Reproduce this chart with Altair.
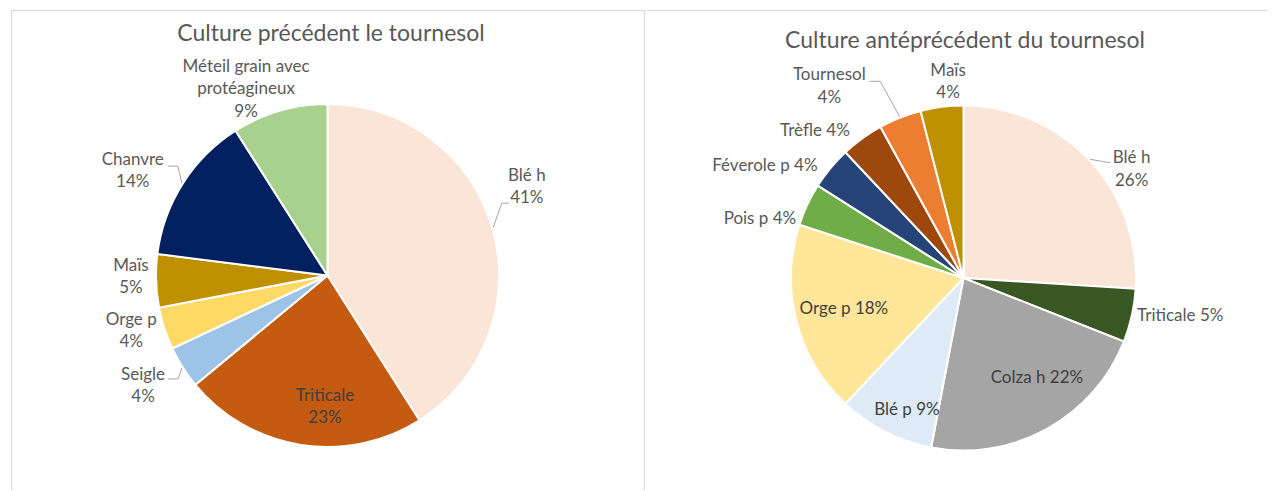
import math
import altair as alt
import pandas as pd

# ---------------- data ----------------
TITLE_L = "Culture précédent le tournesol"
CATS_L = ["Blé h", "Triticale", "Seigle", "Orge p", "Maïs", "Chanvre",
          "Méteil grain avec protéagineux"]
VALS_L = [41, 23, 4, 4, 5, 14, 9]
LABELS_L = ["Blé h\n41%", "Triticale\n23%", "Seigle\n4%", "Orge p\n4%", "Maïs\n5%",
            "Chanvre\n14%", "Méteil grain avec\nprotéagineux\n9%"]
COLORS_L = ["#FBE5D6", "#C55A11", "#9DC3E6", "#FFD966", "#BF9000", "#002060", "#A9D18E"]

TITLE_R = "Culture antéprécédent du tournesol"
CATS_R = ["Blé h", "Triticale", "Colza h", "Blé p", "Orge p", "Pois p",
          "Féverole p", "Trèfle", "Tournesol", "Maïs"]
VALS_R = [26, 5, 22, 9, 18, 4, 4, 4, 4, 4]
LABELS_R = ["Blé h\n26%", "Triticale 5%", "Colza h 22%", "Blé p 9%", "Orge p 18%",
            "Pois p 4%", "Féverole p 4%", "Trèfle 4%", "Tournesol\n4%", "Maïs\n4%"]
COLORS_R = ["#FBE5D6", "#385723", "#A5A5A5", "#DEEBF7", "#FFE699", "#70AD47",
            "#264478", "#9E480E", "#ED7D31", "#BF9000"]

# ---------------- layout / style ----------------
FONT = "Lato"
LABEL_SIZE = 17
TITLE_SIZE = 23
LINE_H = 22.5
TXT = "#595959"
TXT_IN = "#404040"
BORDER = "#D9D9D9"
LEADER = "#A6A6A6"
PANEL_H = 480

# label placement: (radius px, angle nudge deg) per slice
PLACE_L = [(218, -7.7), (131.5, -7.9), (215, 1.5), (204, 2.2), (196.5, 1.4),
           (221, -4.2), (203.5, -7.4)]
PLACE_R = [(200, 10.4), (220, -2.7), (124, -7.5), (143.6, -3.8), (123.5, 0.0),
           (212, -9.0), (228, -10.2), (209, -9.3), (234, -13.4), (196.6, 2.7)]
INSIDE_L = {"Triticale"}
INSIDE_R = {"Colza h", "Blé p", "Orge p"}
# leader lines: slice index, elbow offset, end offset (relative to label block centre)
LEAD_L = [(0, (-25, 16), (-18, 16)), (5, (45, -5), (35, -5)), (2, (35, -7), (25, -7))]
LEAD_R = [(8, (51, -5), (40, -5)), (0, (-28, -8), (-21, -7))]


def mid_angles(vals):
    tot = float(sum(vals))
    acc, out = 0.0, []
    for v in vals:
        out.append(2 * math.pi * (acc + v / 2.0) / tot)
        acc += v
    return out


def panel(cats, vals, labels, colors, title, W, cx, cy, R, place, inside, leads,
          title_xy, borders):
    n = len(cats)
    mids = mid_angles(vals)
    lx, ly, ty = [], [], []
    for m, (r, nd), lab in zip(mids, place, labels):
        t = m + math.radians(nd)
        lx.append(cx + r * math.sin(t))
        yc = cy - r * math.cos(t)
        ly.append(yc)
        ty.append(yc - (lab.count("\n")) * LINE_H / 2.0)
    df = pd.DataFrame({"cat": cats, "val": vals, "order": list(range(n)),
                       "label": labels, "lx": lx, "ty": ty,
                       "inside": [c in inside for c in cats]})

    arcs = alt.Chart(df).mark_arc(outerRadius=R, stroke="white", strokeWidth=2).encode(
        theta=alt.Theta("val:Q", stack=True),
        order=alt.Order("order:Q"),
        color=alt.Color("cat:N", scale=alt.Scale(domain=cats, range=colors), legend=None),
        x=alt.value(cx), y=alt.value(cy),
    )
    txt_out = alt.Chart(df).transform_filter("!datum.inside").mark_text(
        font=FONT, fontSize=LABEL_SIZE, color=TXT, lineBreak="\n", lineHeight=LINE_H,
        align="center", baseline="middle",
    ).encode(x=alt.X("lx:Q", scale=None), y=alt.Y("ty:Q", scale=None), text="label:N")
    txt_in = alt.Chart(df).transform_filter("datum.inside").mark_text(
        font=FONT, fontSize=LABEL_SIZE, color=TXT_IN, lineBreak="\n", lineHeight=LINE_H,
        align="center", baseline="middle",
    ).encode(x=alt.X("lx:Q", scale=None), y=alt.Y("ty:Q", scale=None), text="label:N")

    segs = {"x": [], "y": [], "x2": [], "y2": []}
    for idx, el, en in leads:
        ex = cx + (R + 1) * math.sin(mids[idx])
        ey = cy - (R + 1) * math.cos(mids[idx])
        bx, by = lx[idx] + el[0], ly[idx] + el[1]
        fx, fy = lx[idx] + en[0], ly[idx] + en[1]
        for a, b, c, d in [(ex, ey, bx, by), (bx, by, fx, fy)]:
            segs["x"].append(a); segs["y"].append(b)
            segs["x2"].append(c); segs["y2"].append(d)
    lead = alt.Chart(pd.DataFrame(segs)).mark_rule(color=LEADER, strokeWidth=1).encode(
        x=alt.X("x:Q", scale=None), y=alt.Y("y:Q", scale=None),
        x2="x2:Q", y2="y2:Q")

    ttl = alt.Chart(pd.DataFrame({"t": [title]})).mark_text(
        font=FONT, fontSize=TITLE_SIZE, color=TXT, align="center", baseline="middle",
    ).encode(text="t:N", x=alt.value(title_xy[0]), y=alt.value(title_xy[1]))

    one = pd.DataFrame({"a": [0]})
    layers = []
    for b in borders:
        if b == "left":
            layers.append(alt.Chart(one).mark_rule(color=BORDER, strokeWidth=1).encode(
                x=alt.value(0.5), y=alt.value(0), y2=alt.value(PANEL_H)))
        elif b == "right":
            layers.append(alt.Chart(one).mark_rule(color=BORDER, strokeWidth=1).encode(
                x=alt.value(W - 0.5), y=alt.value(0), y2=alt.value(PANEL_H)))
        elif b == "top":
            layers.append(alt.Chart(one).mark_rule(color=BORDER, strokeWidth=1).encode(
                x=alt.value(0), x2=alt.value(W), y=alt.value(0.5)))
    layers += [arcs, lead, txt_out, txt_in, ttl]
    return alt.layer(*layers).properties(width=W, height=PANEL_H)


left = panel(CATS_L, VALS_L, LABELS_L, COLORS_L, TITLE_L, 634, 316.5, 265.5, 171.5,
             PLACE_L, INSIDE_L, LEAD_L, (320, 24), ["left", "top", "right"])
right = panel(CATS_R, VALS_R, LABELS_R, COLORS_R, TITLE_R, 620, 316.5, 268, 172.5,
              PLACE_R, INSIDE_R, LEAD_R, (318, 31), ["top"])

chart = alt.hconcat(left, right, spacing=0).resolve_scale(
    color="independent", theta="independent"
).properties(
    padding={"left": 2, "top": 1, "right": 0, "bottom": 0}
).configure_view(stroke=None)

chart.save("out.html", embed_options={"renderer": "svg", "actions": False})
